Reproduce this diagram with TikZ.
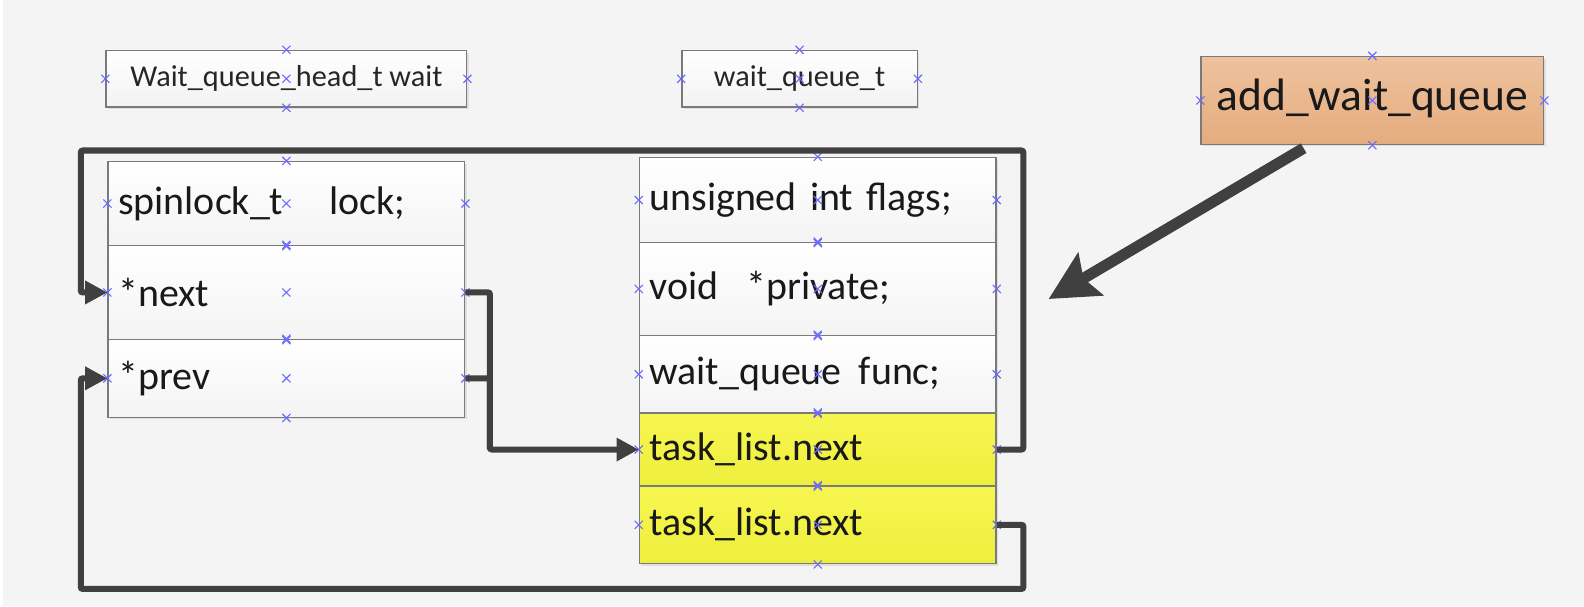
\documentclass[tikz,border=0pt]{standalone}
\usepackage{fontspec}
\setmainfont{Carlito}
\usetikzlibrary{arrows.meta,calc,shadows}
\definecolor{bgc}{HTML}{F4F4F4}
\definecolor{edgec}{HTML}{7A7A7A}
\definecolor{linec}{HTML}{404040}
\definecolor{mk}{HTML}{6A6AFF}
\definecolor{ytop}{HTML}{F6F650}
\definecolor{ybot}{HTML}{EEEE3E}
\definecolor{otop}{HTML}{EEC29E}
\definecolor{obot}{HTML}{E5AC7E}
\tikzset{
  boxbase/.style={draw=edgec, line width=1.4pt, rectangle, inner sep=0pt,
    drop shadow={shadow xshift=2pt, shadow yshift=-2pt, opacity=0.18}},
  titlebox/.style={boxbase, top color=white, bottom color=gray!10,
    font=\fontsize{30}{32}\selectfont, text=black!85},
  rowbox/.style={boxbase, top color=white, bottom color=gray!9,
    minimum width=353pt, text width=333pt, align=left, inner xsep=10pt,
    font=\fontsize{39.5}{41}\selectfont, text=black!90},
  ybox/.style={rowbox, top color=ytop, bottom color=ybot},
  link/.style={draw=linec, line width=6pt, rounded corners=2pt},
  tip/.style={-{Triangle[length=22pt,width=22pt]}},
}
\begin{document}
\begin{tikzpicture}[x=1pt,y=-1pt]
\useasboundingbox (0,0) rectangle (1568,600);
\fill[bgc] (0,0) rectangle (1568,600);
\fill[white] (0,0) rectangle (3,600);

% titles
\node[titlebox, minimum width=357pt, minimum height=56pt] (hd) at (283.5,78) {Wait\_queue\_head\_t wait};
\node[titlebox, minimum width=233pt, minimum height=56pt] (wt) at (791.5,78) {wait\_queue\_t};
\node[boxbase, top color=otop, bottom color=obot, minimum width=339pt, minimum height=87pt,
      font=\fontsize{45}{47}\selectfont, text=black!90] (add) at (1358.5,99.5) {\raisebox{12pt}{add\_wait\_queue}};

% left struct
\node[rowbox, minimum height=83pt] (lk) at (283.5,201.5) {spinlock\_t\hspace{46pt}lock;};
\node[rowbox, minimum height=93pt] (nx) at (283.5,289.5) {*next};
\node[rowbox, minimum height=77pt] (pv) at (283.5,374.5) {*prev};

% right struct
\node[rowbox, minimum height=84pt] (fl) at (809.5,198) {unsigned int flags;};
\node[rowbox, minimum height=92pt] (pr) at (809.5,286) {void\hspace{28pt}*private;};
\node[rowbox, minimum height=77pt] (fn) at (809.5,370.5) {wait\_queue\hspace{17pt}func;};
\node[ybox, minimum height=72pt] (t1) at (809.5,445) {task\_list.next};
\node[ybox, minimum height=77pt] (t2) at (809.5,519.5) {task\_list.next};

% connection point markers
\foreach \n in {hd,wt,add,lk,nx,pv,fl,pr,fn,t1,t2}
  \foreach \a in {north,south,east,west,center}
    \draw[mk, line width=1.1pt] ($(\n.\a)+(-4,-4)$) -- ++(8,8) ($(\n.\a)+(-4,4)$) -- ++(8,-8);

% connectors
\coordinate (lpTR) at (1013,149);
\coordinate (lpTL) at (80,149);
\coordinate (lpBR) at (1013,583);
\coordinate (lpBL) at (80,583);
\coordinate (mid) at (485,445);
\coordinate (bigtip) at (1038,296);

\draw[link, tip] (t1.east) -| (lpTR) -- (lpTL) |- (nx.west);
\draw[link, tip] (t2.east) -| (lpBR) -- (lpBL) |- (pv.west);
\draw[link] (pv.east) -| (mid);
\draw[link, tip] (nx.east) -| (mid) -- (t1.west);

\draw[draw=linec, line width=11pt, -{Stealth[length=48pt,width=48pt,inset=8pt]}]
  ($(add.south west)!0.3!(add.south east)+(0,3)$) -- (bigtip);
\end{tikzpicture}
\end{document}
